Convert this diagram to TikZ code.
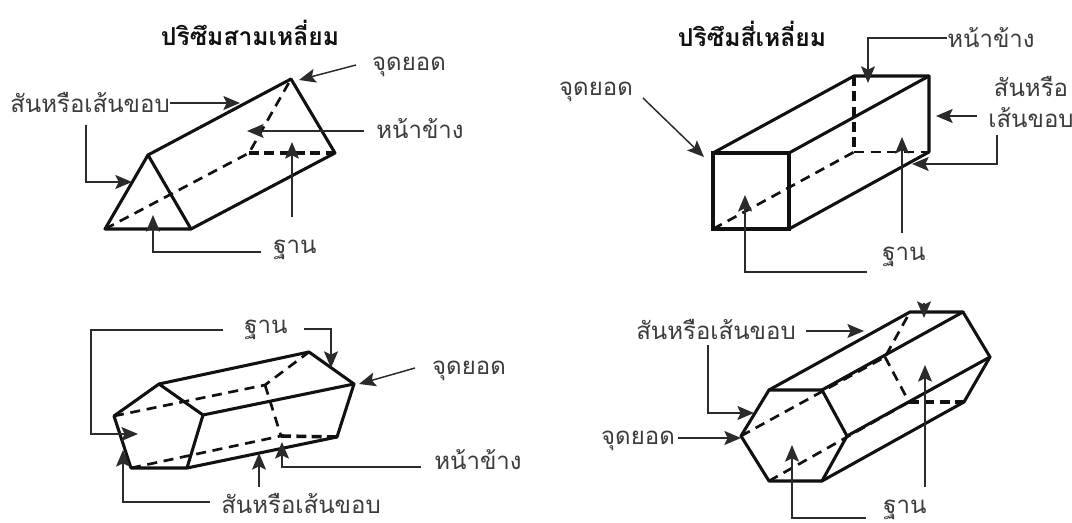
\documentclass[tikz,border=0pt]{standalone}
\usepackage{fontspec}
\usetikzlibrary{arrows.meta}
\newfontfamily\thaifont[Script=Thai]{Loma}
\definecolor{ink}{HTML}{111111}
\definecolor{lineink}{HTML}{2B2B2B}
\definecolor{labelink}{HTML}{3C3C3C}
\tikzset{
  edge/.style={draw=ink,line width=2.3pt,line join=round,line cap=round},
  frontedge/.style={draw=ink,line width=2.9pt,line join=miter},
  hidden/.style={draw=ink,line width=2pt,dash pattern=on 7.5pt off 5pt},
  hiddenbold/.style={draw=ink,line width=2.7pt,dash pattern=on 7.5pt off 4pt},
  lead/.style={draw=lineink,line width=1.1pt,-{Stealth[length=12.5pt,width=10.5pt,inset=2.5pt]}},
  lbl/.style={font=\thaifont\fontsize{18pt}{23pt}\selectfont,text=labelink,inner sep=0pt,align=center},
  ttl/.style={font=\thaifont\bfseries\fontsize{18.5pt}{22pt}\selectfont,text=ink,inner sep=0pt}
}
\begin{document}
\begin{tikzpicture}[x=0.75pt,y=-0.75pt]
\useasboundingbox (0,0) rectangle (1072,523);
\fill[white] (0,0) rectangle (1072,523);
% titles
\node[ttl] (t1) at (250,33) {ปริซึมสามเหลี่ยม};
\node[ttl] (t2) at (752,34) {ปริซึมสี่เหลี่ยม};
% --- triangular prism
\coordinate (A) at (105,229); \coordinate (B) at (191,229); \coordinate (C) at (148,155);
\coordinate (D) at (291,79); \coordinate (E) at (335,153); \coordinate (F) at (249,153);
\draw[hidden] (A) -- (F) -- (D);
\draw[hiddenbold] (F) -- (E);
\draw[edge] (A) -- (B) -- (C) -- cycle;
\draw[edge] (C) -- (D) -- (E) -- (B);
\node[lbl] (a1) at (90,102) {สันหรือเส้นขอบ};
\node[lbl] (a2) at (409,67) {จุดยอด};
\node[lbl] (a3) at (420,129) {หน้าข้าง};
\node[lbl] (a4) at (295,250) {ฐาน};
\coordinate (a1s) at (170,103); \coordinate (a1e) at (240,103);
\coordinate (a1t) at (86,125); \coordinate (a1u) at (86,182); \coordinate (a1v) at (132,182);
\coordinate (a2s) at (356,65); \coordinate (a2e) at (299,80);
\coordinate (a3s) at (364,131); \coordinate (a3e) at (247,131);
\coordinate (a4s) at (261,252); \coordinate (a4u) at (153,252); \coordinate (a4e) at (153,215);
\coordinate (a5s) at (292,217); \coordinate (a5e) at (292,142);
\draw[lead] (a1s) -- (a1e);
\draw[lead] (a1t) -- (a1u) -- (a1v);
\draw[lead] (a2s) -- (a2e);
\draw[lead] (a3s) -- (a3e);
\draw[lead] (a4s) -- (a4u) -- (a4e);
\draw[lead] (a5s) -- (a5e);
% --- square prism
\coordinate (S1) at (713,153); \coordinate (S2) at (789,153); \coordinate (S3) at (789,229); \coordinate (S4) at (713,229);
\coordinate (S5) at (854,76); \coordinate (S6) at (929,76); \coordinate (S7) at (929,152); \coordinate (S8) at (854,152);
\draw[hiddenbold] (S5) -- (S8);
\draw[hidden] (S8) -- (S7);
\draw[hidden] (S4) -- (S8);
\draw[edge] (S1) -- (S5) -- (S6) -- (S7) -- (S3);
\draw[edge] (S2) -- (S6);
\draw[frontedge] (S1) -- (S2) -- (S3) -- (S4) -- cycle;
\node[lbl] (b1) at (991,38) {หน้าข้าง};
\node[lbl] (b2) at (596,92) {จุดยอด};
\node[lbl] (b3) at (1031,102) {สันหรือ\\เส้นขอบ};
\node[lbl] (b4) at (904,257) {ฐาน};
\coordinate (b1s) at (947,38); \coordinate (b1u) at (868,38); \coordinate (b1e) at (868,83);
\coordinate (b2s) at (643,98); \coordinate (b2e) at (704,157);
\coordinate (b3s) at (977,116); \coordinate (b3e) at (936,116);
\coordinate (b5s) at (997,135); \coordinate (b5u) at (997,164); \coordinate (b5e) at (912,164);
\coordinate (b4s) at (902,233); \coordinate (b4e) at (902,137);
\coordinate (b6s) at (867,272); \coordinate (b6u) at (745,272); \coordinate (b6e) at (745,195);
\draw[lead] (b1s) -- (b1u) -- (b1e);
\draw[lead] (b2s) -- (b2e);
\draw[lead] (b3s) -- (b3e);
\draw[lead] (b5s) -- (b5u) -- (b5e);
\draw[lead] (b4s) -- (b4e);
\draw[lead] (b6s) -- (b6u) -- (b6e);
% --- pentagonal prism
\coordinate (P1) at (114,416); \coordinate (P2) at (159,384); \coordinate (P3) at (203,415); \coordinate (P4) at (187,468); \coordinate (P5) at (131,468);
\coordinate (Q1) at (265,385); \coordinate (Q2) at (309,352); \coordinate (Q3) at (354,384); \coordinate (Q4) at (337,437); \coordinate (Q5) at (281,436);
\draw[hidden] (P1) -- (Q1) -- (Q2);
\draw[hidden] (Q1) -- (Q5);
\draw[hidden] (P5) -- (Q5);
\draw[hiddenbold] (Q5) -- (Q4);
\draw[edge] (P1) -- (P2) -- (P3) -- (P4) -- (P5) -- cycle;
\draw[edge] (P2) -- (Q2) -- (Q3) -- (Q4) -- (P4);
\draw[edge] (P3) -- (Q3);
\node[lbl] (c1) at (266,330) {ฐาน};
\node[lbl] (c2) at (469,371) {จุดยอด};
\node[lbl] (c3) at (478,460) {หน้าข้าง};
\node[lbl] (c4) at (301,503) {สันหรือเส้นขอบ};
\coordinate (c1s) at (223,330); \coordinate (c1u) at (91,330); \coordinate (c1v) at (91,434); \coordinate (c1e) at (138,434);
\coordinate (c5s) at (304,329); \coordinate (c5u) at (331,329); \coordinate (c5e) at (331,368);
\coordinate (c2s) at (415,368); \coordinate (c2e) at (359,384);
\coordinate (c3s) at (421,467); \coordinate (c3u) at (282,467); \coordinate (c3e) at (282,442);
\coordinate (c4s) at (259,487); \coordinate (c4e) at (259,453);
\coordinate (c6s) at (210,502); \coordinate (c6u) at (123,502); \coordinate (c6e) at (123,450);
\draw[lead] (c1s) -- (c1u) -- (c1v) -- (c1e);
\draw[lead] (c5s) -- (c5u) -- (c5e);
\draw[lead] (c2s) -- (c2e);
\draw[lead] (c3s) -- (c3u) -- (c3e);
\draw[lead] (c4s) -- (c4e);
\draw[lead] (c6s) -- (c6u) -- (c6e);
% --- hexagonal prism
\coordinate (H1) at (741,436); \coordinate (H2) at (769,390); \coordinate (H3) at (822,390); \coordinate (H4) at (847,436); \coordinate (H5) at (822,481); \coordinate (H6) at (769,481);
\coordinate (K1) at (885,357); \coordinate (K2) at (910,312); \coordinate (K3) at (963,312); \coordinate (K4) at (990,357); \coordinate (K5) at (964,402); \coordinate (K6) at (909,402);
\draw[hidden] (H1) -- (K1) -- (K2);
\draw[hidden] (K1) -- (K6);
\draw[hidden] (H6) -- (K6);
\draw[hiddenbold] (K6) -- (K5);
\draw[edge] (H1) -- (H2) -- (H3) -- (H4) -- (H5) -- (H6) -- cycle;
\draw[edge] (H2) -- (K2) -- (K3) -- (K4) -- (K5) -- (H5);
\draw[edge] (H3) -- (K3);
\draw[edge] (H4) -- (K4);
\node[lbl] (d1) at (716,329) {สันหรือเส้นขอบ};
\node[lbl] (d2) at (638,441) {จุดยอด};
\node[lbl] (d3) at (905,510) {ฐาน};
\coordinate (d1s) at (806,331); \coordinate (d1e) at (864,331);
\coordinate (d4s) at (708,345); \coordinate (d4u) at (708,413); \coordinate (d4e) at (754,413);
\coordinate (d2s) at (678,438); \coordinate (d2e) at (741,438);
\coordinate (d5s) at (924,303); \coordinate (d5e) at (924,318);
\coordinate (d3s) at (925,487); \coordinate (d3e) at (925,365);
\coordinate (d6s) at (866,518); \coordinate (d6u) at (792,518); \coordinate (d6e) at (792,445);
\draw[lead] (d1s) -- (d1e);
\draw[lead] (d4s) -- (d4u) -- (d4e);
\draw[lead] (d2s) -- (d2e);
\draw[lead] (d5s) -- (d5e);
\draw[lead] (d3s) -- (d3e);
\draw[lead] (d6s) -- (d6u) -- (d6e);
\end{tikzpicture}
\end{document}
